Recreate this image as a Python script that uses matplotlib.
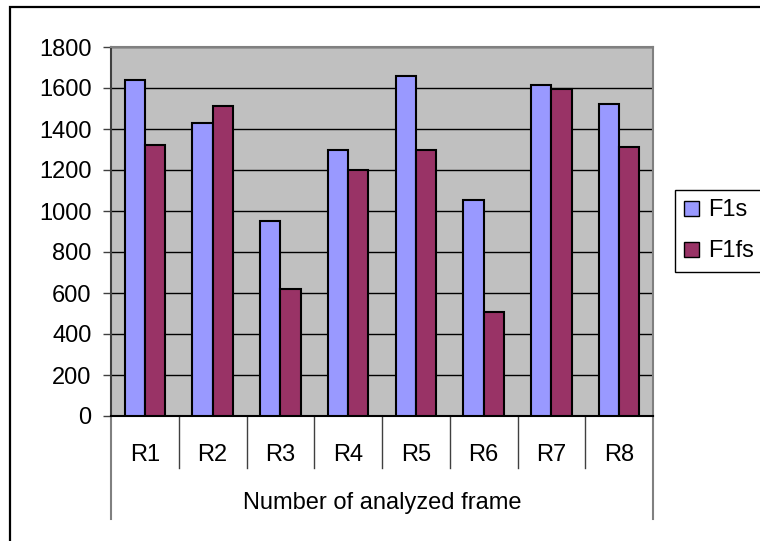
import matplotlib
matplotlib.use('Agg')
import matplotlib.pyplot as plt
import numpy as np
from matplotlib.patches import Rectangle

# данные
categories = ['R1', 'R2', 'R3', 'R4', 'R5', 'R6', 'R7', 'R8']
f1s = [1640, 1430, 950, 1300, 1660, 1052, 1615, 1522]
f1fs = [1320, 1512, 618, 1200, 1300, 506, 1597, 1312]
yticks = [0, 200, 400, 600, 800, 1000, 1200, 1400, 1600, 1800]
xlabel = 'Number of analyzed frame'

plt.rcParams['font.family'] = ['Liberation Sans', 'DejaVu Sans']
fs = 17

W, H = 760, 541
fig = plt.figure(figsize=(W/100, H/100), dpi=100)
fig.patch.set_facecolor('white')

# внешняя рамка (обрезана справа и снизу)
fig.patches.append(Rectangle((10/W, -0.2), 2.0, 1 - 7/H + 0.2, transform=fig.transFigure,
                             fill=False, edgecolor='black', linewidth=1.6))

left, top, right, bottom = 111, 47, 653, 416
ax = fig.add_axes([left/W, 1 - bottom/H, (right-left)/W, (bottom-top)/H])
ax.set_facecolor('#C0C0C0')

x = np.arange(len(categories))
w = 0.3
ax.bar(x - w/2, f1s, w, color='#9999FF', edgecolor='black', linewidth=1.5, label='F1s', zorder=3)
ax.bar(x + w/2, f1fs, w, color='#993366', edgecolor='black', linewidth=1.5, label='F1fs', zorder=3)

ax.set_xlim(-0.5, len(categories) - 0.5)
ax.set_ylim(0, 1800)
ax.set_yticks(yticks)
ax.set_yticklabels([str(v) for v in yticks], fontsize=fs)
ax.yaxis.grid(True, color='black', linewidth=1, zorder=1)
ax.set_axisbelow(True)
ax.tick_params(axis='y', length=6, width=1, color='#404040', pad=8)

ax.spines['top'].set_color('#808080')
ax.spines['right'].set_color('#808080')
ax.spines['top'].set_linewidth(1.5)
ax.spines['right'].set_linewidth(1.5)
ax.spines['left'].set_color('#404040')
ax.spines['left'].set_linewidth(1.5)
ax.spines['bottom'].set_color('black')
ax.spines['bottom'].set_linewidth(1.5)

# подписи категорий
ax.set_xticks(x)
ax.set_xticklabels(categories, fontsize=fs)
ax.tick_params(axis='x', length=0, pad=20)

tr = ax.get_xaxis_transform()
hpx = bottom - top
y_in = -(468 - bottom) / hpx
y_out = -(519 - bottom) / hpx
for b in np.arange(0.5, len(categories) - 1, 1.0):
    ax.plot([b, b], [0, y_in], transform=tr, color='#404040', linewidth=1, clip_on=False)
for b in [-0.5, len(categories) - 0.5]:
    ax.plot([b, b], [0, y_out], transform=tr, color='#808080', linewidth=1.5, clip_on=False)

ax.text((len(categories) - 1) / 2, -(503 - bottom) / hpx, xlabel, transform=tr,
        ha='center', va='center', fontsize=fs)

leg = ax.legend(loc='upper left', bbox_to_anchor=(675/W, 1 - 190/H), bbox_transform=fig.transFigure,
                fontsize=fs, frameon=True, fancybox=False, edgecolor='black', framealpha=1,
                handlelength=0.6, handleheight=0.6, handletextpad=0.4, labelspacing=0.8,
                borderpad=0.4, borderaxespad=0)
leg.get_frame().set_linewidth(1)
for p in leg.get_patches():
    p.set_linewidth(1)

fig.savefig('out.png', dpi=100)
